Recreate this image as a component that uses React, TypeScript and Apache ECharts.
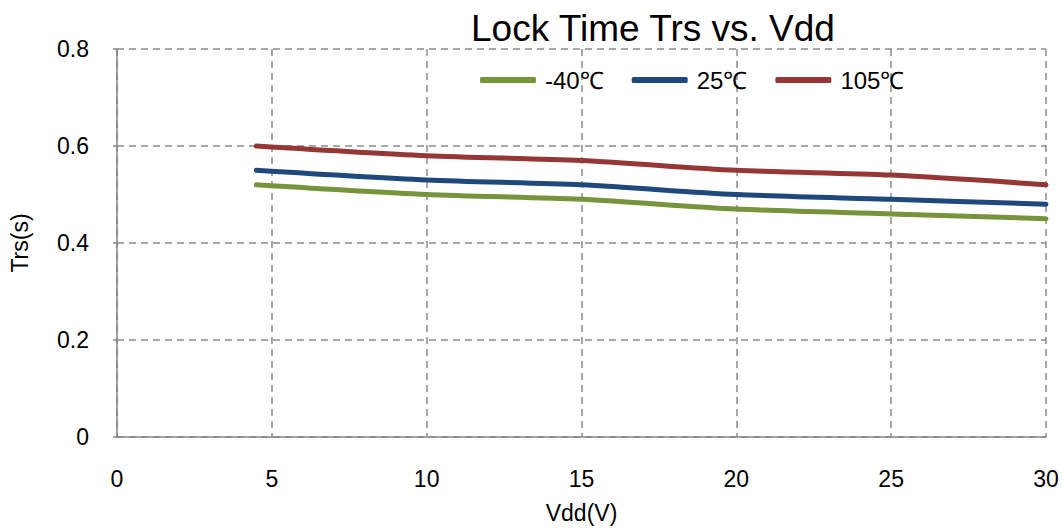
import React, { useEffect, useRef } from "react";
import * as echarts from "echarts";

const vdd = [4.5, 10, 15, 20, 25, 30];
const seriesNames = ["-40℃", "25℃", "105℃"];
const trsMinus40 = [0.52, 0.50, 0.49, 0.47, 0.46, 0.45];
const trs25 = [0.55, 0.53, 0.52, 0.50, 0.49, 0.48];
const trs105 = [0.60, 0.58, 0.57, 0.55, 0.54, 0.52];
const colors = ["#77933C", "#1F497D", "#953735"];

export default function App() {
  const ref = useRef<HTMLDivElement>(null);
  useEffect(() => {
    if (!ref.current) return;
    const chart = echarts.init(ref.current, null, { renderer: "svg" });
    const values = [trsMinus40, trs25, trs105];
    const font = "Liberation Sans, Arial, sans-serif";
    chart.setOption({
      animation: false,
      backgroundColor: "#ffffff",
      title: {
        text: "Lock Time Trs vs. Vdd",
        left: 466,
        top: 5,
        textStyle: { fontFamily: font, fontSize: 37, fontWeight: "normal", color: "#000" },
      },
      legend: {
        left: 475,
        top: 63,
        icon: "roundRect",
        itemWidth: 56,
        itemHeight: 6,
        itemGap: 28,
        itemStyle: { borderWidth: 0 },
        textStyle: { fontFamily: font, fontSize: 24, color: "#000", padding: [0, 0, 0, 4] },
        data: seriesNames,
      },
      grid: { left: 117, right: 17, top: 49, bottom: 94 },
      xAxis: {
        type: "value",
        min: 0,
        max: 30,
        interval: 5,
        name: "Vdd(V)",
        nameLocation: "middle",
        nameGap: 64,
        nameTextStyle: { fontFamily: font, fontSize: 23, color: "#000" },
        axisLine: { show: true, lineStyle: { color: "#868686", width: 1.5 } },
        axisTick: { show: false },
        axisLabel: { margin: 30, fontFamily: font, fontSize: 23, color: "#000" },
        splitLine: { show: true, lineStyle: { color: "#8c8c8c", width: 1.5, type: [7, 5] } },
      },
      yAxis: {
        type: "value",
        min: 0,
        max: 0.8,
        interval: 0.2,
        name: "Trs(s)",
        nameLocation: "middle",
        nameGap: 86,
        nameTextStyle: { fontFamily: font, fontSize: 23, color: "#000" },
        axisLine: { show: true, lineStyle: { color: "#868686", width: 1.5 } },
        axisTick: { show: true, length: 4, lineStyle: { color: "#868686", width: 1.5 } },
        axisLabel: { margin: 28, fontFamily: font, fontSize: 23, color: "#000" },
        splitLine: { show: true, lineStyle: { color: "#8c8c8c", width: 1.5, type: [7, 5] } },
      },
      series: seriesNames.map((name, i) => ({
        name,
        type: "line",
        smooth: 0.3,
        symbol: "none",
        data: vdd.map((x, j) => [x, values[i][j]]),
        lineStyle: { color: colors[i], width: 5, cap: "round" },
        itemStyle: { color: colors[i] },
      })),
    });
    return () => chart.dispose();
  }, []);
  return (
    <div
      ref={ref}
      style={{ position: "fixed", left: 0, top: 0, width: 1063, height: 531 }}
    />
  );
}
